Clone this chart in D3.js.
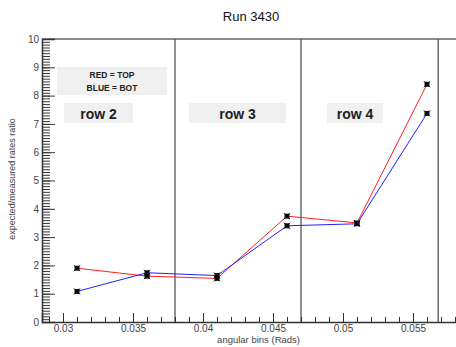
<!DOCTYPE html>
<html>
<head>
<meta charset="utf-8">
<script src="https://cdn.jsdelivr.net/npm/d3@7"></script>
<style>
  body { margin:0; background:#fff; }
  svg { display:block; font-family:"Liberation Sans", Arial, sans-serif; }
  .axis path, .axis line { stroke:#333; }
  .axis text { fill:#444; font-size:10px; }
</style>
</head>
<body>
<svg id="chart" width="456" height="347"></svg>
<script>
// ----------------------------
// data
// ----------------------------
var bins    = [0.031, 0.036, 0.041, 0.046, 0.051, 0.056];
var redTop  = [1.90, 1.62, 1.54, 3.74, 3.50, 8.40];
var blueBot = [1.08, 1.74, 1.64, 3.40, 3.47, 7.37];
var rowEdges = [0.038, 0.047, 0.0568];
var rowNames = ["row 2", "row 3", "row 4"];
var xTicks = [0.03, 0.035, 0.04, 0.045, 0.05, 0.055];
var yTicks = [0, 1, 2, 3, 4, 5, 6, 7, 8, 9, 10];

var svg = d3.select("#chart");

var x = d3.scaleLinear().domain([0.0285, 0.0585]).range([42, 462]);
var y = d3.scaleLinear().domain([0, 10]).range([322, 39]);

// frame top line
svg.append("line")
  .attr("x1", x.range()[0]).attr("x2", x.range()[1])
  .attr("y1", y(10)).attr("y2", y(10))
  .attr("stroke", "#666").attr("stroke-width", 1.5);

// row separators
svg.selectAll(".sep").data(rowEdges).enter().append("line")
  .attr("class", "sep")
  .attr("x1", function(d){ return x(d); }).attr("x2", function(d){ return x(d); })
  .attr("y1", y(10)).attr("y2", y(0))
  .attr("stroke", "#555").attr("stroke-width", 1.3);

// legend box
var lg = svg.append("g");
lg.append("rect").attr("x", 57).attr("y", 67).attr("width", 110).attr("height", 28).attr("fill", "#f0f0f0");
lg.append("text").attr("x", 112).attr("y", 78).attr("text-anchor", "middle")
  .attr("font-size", "8.5px").attr("font-weight", "bold").attr("fill", "#222").text("RED = TOP");
lg.append("text").attr("x", 112).attr("y", 91).attr("text-anchor", "middle")
  .attr("font-size", "8.5px").attr("font-weight", "bold").attr("fill", "#222").text("BLUE = BOT");

// row labels
var rowBoxes = [[64, 69], [189, 97], [327, 56]];
rowNames.forEach(function(name, i){
  var b = rowBoxes[i];
  svg.append("rect").attr("x", b[0]).attr("y", 103).attr("width", b[1]).attr("height", 20).attr("fill", "#f0f0f0");
  svg.append("text").attr("x", b[0] + b[1]/2).attr("y", 119).attr("text-anchor", "middle")
    .attr("font-size", "14px").attr("font-weight", "bold").attr("fill", "#222").text(name);
});

// y axis, major and minor ticks drawn inward
svg.append("g").attr("class", "axis").attr("transform", "translate(42,0)")
  .call(d3.axisLeft(y).tickValues(d3.range(0, 10.001, 0.1)).tickSize(-8).tickFormat(""))
  .call(function(g){ g.select(".domain").remove(); });
svg.append("g").attr("class", "axis").attr("transform", "translate(42,0)")
  .call(d3.axisLeft(y).tickValues(yTicks).tickSize(-13).tickPadding(3).tickFormat(d3.format("d")))
  .call(function(g){ g.select(".domain").attr("stroke-width", 1.5); });

// x axis
svg.append("g").attr("class", "axis").attr("transform", "translate(0,322)")
  .call(d3.axisBottom(x).tickValues(d3.range(0.029, 0.0585, 0.001)).tickSize(-5).tickFormat(""))
  .call(function(g){ g.select(".domain").remove(); });
svg.append("g").attr("class", "axis").attr("transform", "translate(0,322)")
  .call(d3.axisBottom(x).tickValues(xTicks).tickSize(-9).tickPadding(3).tickFormat(d3.format("")))
  .call(function(g){ g.select(".domain").attr("stroke-width", 1.5); });

// axis titles
svg.append("text").attr("x", 300).attr("y", 343).attr("text-anchor", "end")
  .attr("font-size", "9.5px").attr("fill", "#444").text("angular bins (Rads)");
svg.append("text").attr("transform", "translate(15,179) rotate(-90)").attr("text-anchor", "middle")
  .attr("font-size", "9px").attr("fill", "#444").text("expected/measured rates ratio");
svg.append("text").attr("x", 251).attr("y", 21).attr("text-anchor", "middle")
  .attr("font-size", "13px").attr("fill", "#111").text("Run 3430");

// series
var line = d3.line().x(function(d){ return x(d[0]); }).y(function(d){ return y(d[1]); });
[[redTop, "#ff2020"], [blueBot, "#2020ff"]].forEach(function(s){
  var pts = d3.zip(bins, s[0]);
  svg.append("path").attr("d", line(pts)).attr("fill", "none").attr("stroke", s[1]).attr("stroke-width", 1);
  var m = svg.append("g").selectAll("g").data(pts).enter().append("g")
    .attr("transform", function(d){ return "translate(" + x(d[0]) + "," + y(d[1]) + ")"; });
  m.append("rect").attr("x", -2.5).attr("y", -2.5).attr("width", 5).attr("height", 5).attr("fill", "#111");
  m.append("path").attr("d", "M-3,-3L3,3M-3,3L3,-3").attr("stroke", "#000").attr("stroke-width", 1);
});
</script>
</body>
</html>
